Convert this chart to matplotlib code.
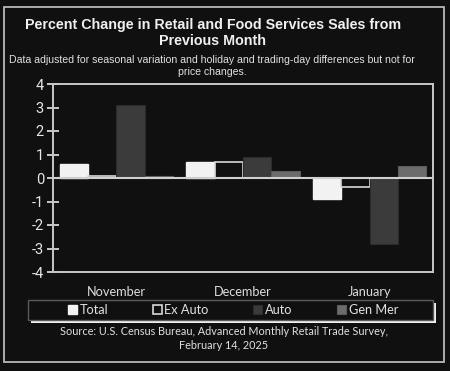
import numpy as np
import matplotlib
matplotlib.use('Agg')
from matplotlib import pyplot as plt, patches

months = ['November', 'December', 'January']
series = ['Total', 'Ex Auto', 'Auto', 'Gen Mer']
total = [0.6, 0.7, -0.9]
ex_auto = [0.1, 0.7, -0.4]
auto = [3.1, 0.9, -2.8]
gen_mer = [0.1, 0.3, 0.5]
y_ticks = [-4, -3, -2, -1, 0, 1, 2, 3, 4]

bg = '#101010'
light = '#c8c8c8'

fig = plt.figure(figsize=(4.5, 3.71), dpi=100, facecolor=bg)
ax = fig.add_axes([53 / 450, 1 - 272 / 371, 380 / 450, 188 / 371])
ax.set_facecolor(bg)

x = np.arange(len(months))
w = 0.224
styles = [
    dict(color='#f2f2f2', edgecolor='#f2f2f2'),
    dict(color=bg, edgecolor='#d8d8d8', linewidth=1.2),
    dict(color='#3b3b3b', edgecolor='#2c2c2c', linewidth=0.8),
    dict(color='#6c6c6c', edgecolor='#5c5c5c', linewidth=0.8),
]
bars = []
for j, vals in enumerate([total, ex_auto, auto, gen_mer]):
    b = ax.bar(x + (j - 1.5) * w, vals, w, label=series[j], zorder=2, **styles[j])
    bars.append(b)

ax.axhline(0, color='#d0d0d0', linewidth=1.5, zorder=3)
ax.set_xlim(-0.5, 2.5)
ax.set_ylim(-4, 4)
ax.set_yticks(y_ticks)
ax.set_yticklabels([str(t) for t in y_ticks], family='Roboto', fontsize=10.5, color='#e6e6e6')
ax.set_xticks(x)
ax.set_xticklabels(months, family='Lato', fontsize=9.2, color='#dcdcdc')
ax.tick_params(axis='y', direction='inout', length=9, width=1.4, color=light, pad=2)
ax.tick_params(axis='x', length=0, pad=10)
for s in ax.spines.values():
    s.set_color(light)
    s.set_linewidth(1.4)

# outer border
fig.patches.append(patches.Rectangle((4 / 450, 1 - 362 / 371), 440 / 450, 355 / 371,
                                     transform=fig.transFigure, fill=False,
                                     edgecolor='#b8b8b8', linewidth=1.3))

fig.text(0.473, 0.911, 'Percent Change in Retail and Food Services Sales from\nPrevious Month',
         ha='center', va='center', family='Liberation Sans', fontweight='bold',
         fontsize=10.3, color='#f0f0f0', linespacing=1.25)
fig.text(0.472, 0.822, 'Data adjusted for seasonal variation and holiday and trading-day differences but not for\nprice changes.',
         ha='center', va='center', family='Liberation Sans', fontsize=7.6,
         color='#e0e0e0', linespacing=1.2)

# legend box with white shadow
fig.patches.append(patches.Rectangle((31 / 450, 1 - 323 / 371), 405 / 450, 20 / 371,
                                     transform=fig.transFigure, facecolor='#f0f0f0',
                                     edgecolor='none'))
fig.patches.append(patches.Rectangle((28 / 450, 1 - 320 / 371), 405 / 450, 20 / 371,
                                     transform=fig.transFigure, facecolor=bg,
                                     edgecolor='#5a5a5a', linewidth=1))
leg = fig.legend(handles=bars, labels=series, loc='center', bbox_to_anchor=(233 / 450, 1 - 310 / 371),
                 ncol=4, frameon=False, handlelength=0.7, handleheight=0.7, handletextpad=0.2,
                 columnspacing=3.5, prop={'family': 'Lato', 'size': 9.2})
for t in leg.get_texts():
    t.set_color('#e0e0e0')

fig.text(224 / 450, 1 - 338.5 / 371, 'Source: U.S. Census Bureau, Advanced Monthly Retail Trade Survey,\nFebruary 14, 2025',
         ha='center', va='center', family='Lato', fontsize=7.8, color='#e0e0e0', linespacing=1.3)

fig.savefig('out.png', dpi=100, facecolor=bg)
